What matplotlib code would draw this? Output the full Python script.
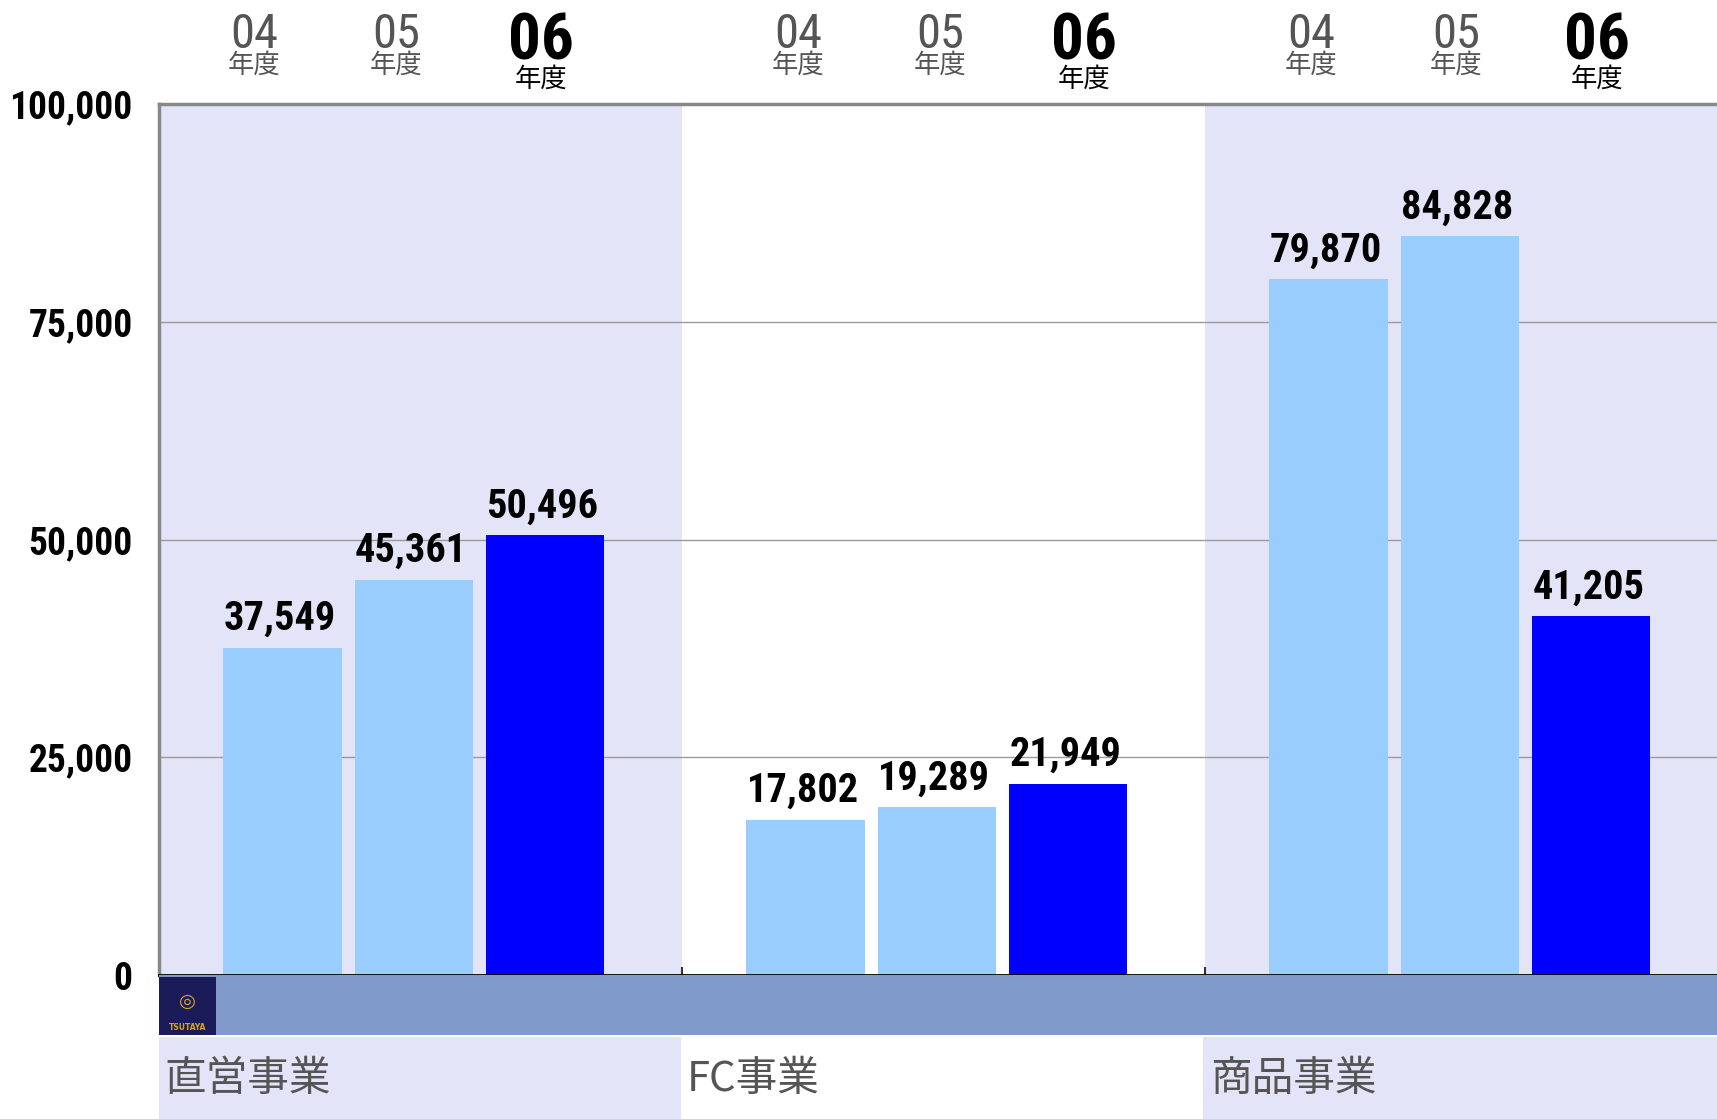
import matplotlib
matplotlib.use('Agg')
import matplotlib.pyplot as plt
from matplotlib import font_manager
from matplotlib.patches import Rectangle
from matplotlib.transforms import blended_transform_factory

# データ
groups = ['直営事業', 'FC事業', '商品事業']
years = ['04', '05', '06']
vals_04 = [37549, 17802, 79870]
vals_05 = [45361, 19289, 84828]
vals_06 = [50496, 21949, 41205]
yticks = [0, 25000, 50000, 75000, 100000]

names = {f.name for f in font_manager.fontManager.ttflist}
condensed = ['Roboto Condensed', 'DejaVu Sans Condensed', 'Liberation Sans Narrow',
             'Open Sans Condensed', 'Noto Sans Condensed', 'Arial Narrow', 'Oswald']
NUM = next((c for c in condensed if c in names), None)
if NUM is not None:
    fs_val, fs_tick, fs_hd, fs_hd6 = 29, 27, 35, 47
else:
    NUM = 'Roboto' if 'Roboto' in names else 'DejaVu Sans'
    fs_val, fs_tick, fs_hd, fs_hd6 = 24, 23, 28, 37
JP = ['Noto Sans CJK JP', 'DejaVu Sans']

LAV = '#E4E4F8'
LIGHT = '#99CCFF'
BLUE = '#0000FF'
BAND = '#7F9ACB'
GRAY = '#555555'

W, H = 1717, 1119
fig = plt.figure(figsize=(W / 100, H / 100), dpi=100)

left, top, zero = 159, 104, 975
gw = 523  # ピクセル/グループ
ax = fig.add_axes([left / W, 1 - zero / H, 3 * gw / W, (zero - top) / H])
ax.set_xlim(0, 3)
ax.set_ylim(0, 100000)

ax.axvspan(0, 1, color=LAV, zorder=0, lw=0)
ax.axvspan(2, 3, color=LAV, zorder=0, lw=0)
for v in yticks[1:-1]:
    ax.axhline(v, color='#999999', lw=1, zorder=1)

offs = [0.236, 0.487, 0.738]
bw = 0.226
series = [vals_04, vals_05, vals_06]
colors = [LIGHT, LIGHT, BLUE]
for k, vals in enumerate(series):
    xs = [g + offs[k] for g in range(3)]
    ax.bar(xs, vals, width=bw, color=colors[k], zorder=2)
    for x, v in zip(xs, vals):
        ax.annotate(f'{v:,}', (x, v), xytext=(-2, 7), textcoords='offset points',
                    ha='center', va='bottom', fontsize=fs_val, fontweight='bold',
                    family=NUM, color='black')

ax.set_yticks(yticks)
ax.set_yticklabels([f'{v:,}' for v in yticks], fontsize=fs_tick, fontweight='bold', family=NUM)
ax.tick_params(axis='y', length=0, pad=19)
ax.set_xticks([1, 2])
ax.set_xticklabels([])
ax.tick_params(axis='x', direction='in', length=6, width=1.5, color='#333333')
for s in ['left', 'top']:
    ax.spines[s].set_color('#888888')
    ax.spines[s].set_linewidth(2.5)
ax.spines['right'].set_visible(False)
ax.spines['bottom'].set_color('black')
ax.spines['bottom'].set_linewidth(2)

# 年度ヘッダー (グループ内の位置)
hd_pos = [[0.182, 0.454, 0.730], [0.222, 0.494, 0.768], [0.203, 0.481, 0.749]]
tr = blended_transform_factory(ax.transData, fig.transFigure)
for g in range(3):
    for k, yr in enumerate(years):
        x = g + hd_pos[g][k]
        if k < 2:
            ax.text(x, 1 - 48 / H, yr, transform=tr, ha='center', va='baseline',
                    fontsize=fs_hd, family=NUM, color=GRAY)
            ax.text(x, 1 - 65 / H, '年度', transform=tr, ha='center', va='center',
                    fontsize=19, family=JP, color=GRAY)
        else:
            ax.text(x, 1 - 60 / H, yr, transform=tr, ha='center', va='baseline',
                    fontsize=fs_hd6, fontweight='bold', family=NUM, color='black')
            ax.text(x, 1 - 79 / H, '年度', transform=tr, ha='center', va='center',
                    fontsize=19, family=JP, color='black')

# 下部の帯とカテゴリー名
ax2 = fig.add_axes([left / W, 0, 3 * gw / W, (H - zero) / H])
ax2.set_xlim(0, 3)
ax2.set_ylim(0, H - zero)
ax2.axis('off')
ax2.add_patch(Rectangle((0, 84), 3, 60, color=BAND, lw=0))
ax2.add_patch(Rectangle((0, 0), 0.998, 82, color=LAV, lw=0))
ax2.add_patch(Rectangle((1.996, 0), 1.004, 82, color=LAV, lw=0))
# ロゴ
lw_ = 57 / gw
ax2.add_patch(Rectangle((0, 84), lw_, 58, color='#1B1B5A', lw=0))
ax2.text(lw_ / 2, 92, 'TSUTAYA', ha='center', va='center', fontsize=5.5,
         fontweight='bold', color='#D9A520', family='DejaVu Sans')
ax2.text(lw_ / 2, 118, '◎', ha='center', va='center', fontsize=14,
         color='#D9A520', family='DejaVu Sans')
for g, name in enumerate(groups):
    ax2.text(g + 0.01, 40, name, ha='left', va='center', fontsize=30,
             family=JP, color=GRAY)

fig.savefig('out.png', dpi=100)
